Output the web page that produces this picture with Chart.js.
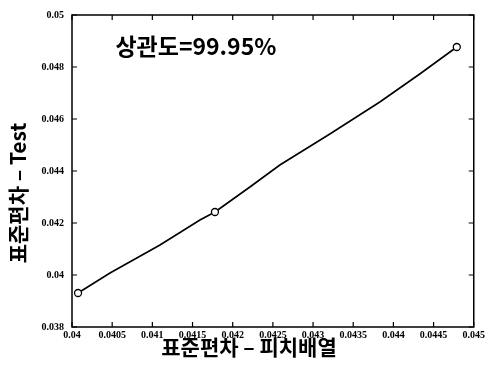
<!DOCTYPE html>
<html>
<head>
<meta charset="utf-8">
<script src="https://cdn.jsdelivr.net/npm/chart.js@4/dist/chart.umd.min.js"></script>
<style>
  html, body { margin: 0; padding: 0; background: #fff; }
  #wrap { width: 487px; height: 376px; position: relative; }
</style>
</head>
<body>
<div id="wrap"><canvas id="c"></canvas></div>
<script>
// Standard deviation: pitch arrangement (x) vs. test (y)
const pitchStd = [0.040075, 0.040473, 0.041095, 0.041592, 0.041779, 0.042214, 0.042587, 0.043209, 0.043831, 0.044328, 0.044789];
const testStd  = [0.039308, 0.040077, 0.041154, 0.042115, 0.042423, 0.043385, 0.044231, 0.045423, 0.046654, 0.047731, 0.048769];
const markedPoints = [0, 4, 10];

const xTickMin = 0.040, xTickMax = 0.045, xTickStep = 0.0005;
const yTickMin = 0.038, yTickMax = 0.050, yTickStep = 0.002;

const correlationLabel = '상관도=99.95%';
const xTitle = '표준편차 – 피치배열';
const yTitle = '표준편차 – Test';

const points = pitchStd.map((x, i) => ({ x, y: testStd[i] }));
const fmt = v => String(Number(v.toFixed(4)));

// frame, inward tick marks on all four sides, titles and the correlation note
const decorations = {
  id: 'decorations',
  afterDraw(chart) {
    const { ctx, chartArea: a, scales } = chart;
    const xs = scales.x, ys = scales.y;
    ctx.save();
    ctx.strokeStyle = '#000';
    ctx.lineWidth = 1.5;
    ctx.strokeRect(a.left, a.top, a.right - a.left, a.bottom - a.top);
    ctx.lineWidth = 1.2;
    const tl = 5;
    ctx.beginPath();
    xs.ticks.forEach(t => {
      const px = xs.getPixelForValue(t.value);
      ctx.moveTo(px, a.bottom); ctx.lineTo(px, a.bottom - tl);
      ctx.moveTo(px, a.top); ctx.lineTo(px, a.top + tl);
    });
    ys.ticks.forEach(t => {
      const py = ys.getPixelForValue(t.value);
      ctx.moveTo(a.left, py); ctx.lineTo(a.left + tl, py);
      ctx.moveTo(a.right, py); ctx.lineTo(a.right - tl, py);
    });
    ctx.stroke();

    ctx.fillStyle = '#000';
    ctx.textBaseline = 'middle';
    ctx.textAlign = 'center';
    ctx.font = 'bold 23px "Noto Sans CJK KR", "Noto Sans", sans-serif';
    ctx.fillText(correlationLabel, xs.getPixelForValue(0.041542), ys.getPixelForValue(0.048808));

    ctx.font = 'bold 21px "Noto Sans CJK KR", "Noto Sans", sans-serif';
    ctx.fillText(xTitle, a.left + 177, 347);

    ctx.save();
    ctx.translate(18, a.top + 178);
    ctx.rotate(-Math.PI / 2);
    ctx.fillText(yTitle, 0, 0);
    ctx.restore();
    ctx.restore();
  }
};

const tickFont = { family: '"Liberation Serif", "DejaVu Serif", serif', size: 10, weight: 'bold' };

new Chart(document.getElementById('c'), {
  type: 'scatter',
  data: {
    datasets: [{
      data: points,
      showLine: true,
      borderColor: '#000',
      borderWidth: 1.6,
      backgroundColor: '#fff',
      pointBorderColor: '#000',
      pointBorderWidth: 1.3,
      pointRadius: ctx => markedPoints.includes(ctx.dataIndex) ? 3.5 : 0,
      pointHoverRadius: 0,
      tension: 0
    }]
  },
  options: {
    responsive: true,
    maintainAspectRatio: false,
    animation: false,
    events: [],
    layout: { padding: { left: 0, right: 13, top: 15, bottom: 0 } },
    plugins: { legend: { display: false }, tooltip: { enabled: false } },
    scales: {
      x: {
        type: 'linear',
        min: xTickMin, max: xTickMax,
        grid: { display: false, drawTicks: false },
        border: { display: false },
        ticks: {
          stepSize: xTickStep, autoSkip: false, maxRotation: 0, padding: 2,
          color: '#000', font: tickFont, callback: v => fmt(v)
        },
        afterFit: s => { s.height = 49; }
      },
      y: {
        type: 'linear',
        min: yTickMin, max: yTickMax,
        grid: { display: false, drawTicks: false },
        border: { display: false },
        ticks: {
          stepSize: yTickStep, autoSkip: false, padding: 8,
          color: '#000', font: tickFont, callback: v => fmt(v)
        },
        afterFit: s => { s.width = 72; }
      }
    }
  },
  plugins: [decorations]
});
</script>
</body>
</html>
